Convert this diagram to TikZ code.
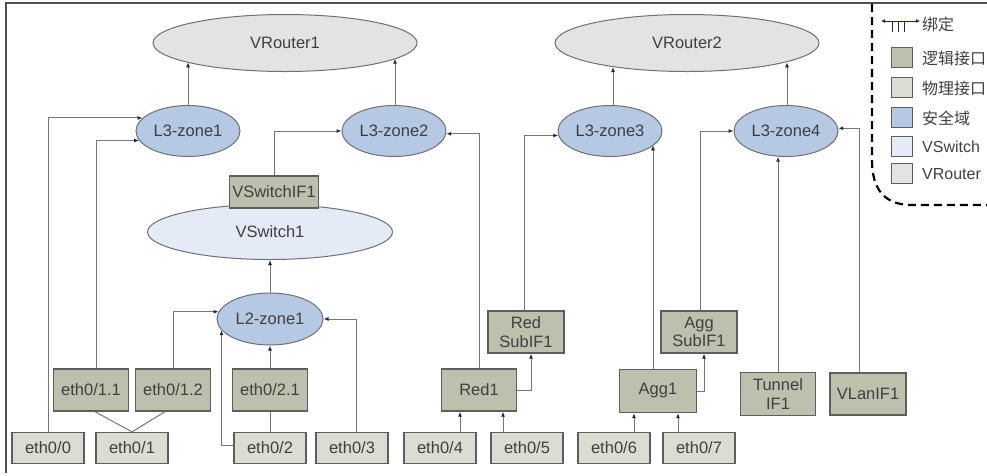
\documentclass[tikz,border=0pt]{standalone}
\usepackage{fontspec}
\setmainfont{Liberation Sans}
\newfontfamily\cjkfont{Noto Sans CJK SC}
\usetikzlibrary{shapes.geometric,arrows.meta}

\definecolor{logicfill}{HTML}{BEBFAD}
\definecolor{physfill}{HTML}{DCDCD3}
\definecolor{zonefill}{HTML}{B5C8E4}
\definecolor{vswfill}{HTML}{E4EBF7}
\definecolor{vrtfill}{HTML}{E3E3E3}
\definecolor{edgegray}{HTML}{5E5E5E}
\definecolor{ovalgray}{HTML}{707070}
\definecolor{wiregray}{HTML}{767676}
\definecolor{tipblue}{HTML}{1E2450}
\definecolor{labelgray}{HTML}{404040}
\definecolor{framegray}{HTML}{505050}

\begin{document}
\begin{tikzpicture}[x=1pt,y=-1pt,
  every node/.style={font=\fontsize{16.5}{18.5}\selectfont, text=labelgray, inner sep=0pt},
  box/.style={rectangle, draw=edgegray, line width=1.3pt, align=center},
  logic/.style={box, fill=logicfill, minimum width=75pt, minimum height=42pt},
  phys/.style={box, fill=physfill, minimum width=72pt, minimum height=31pt},
  oval/.style={ellipse, draw=ovalgray, line width=1pt},
  zone/.style={oval, fill=zonefill, minimum width=104pt, minimum height=51pt},
  vswitch/.style={oval, fill=vswfill, minimum width=245pt, minimum height=55pt},
  vrouter/.style={oval, fill=vrtfill, minimum width=264pt, minimum height=57pt},
  swatch/.style={rectangle, draw=edgegray, line width=1pt, minimum width=21pt, minimum height=20pt},
  keytext/.style={anchor=west, font=\fontsize{16}{18}\selectfont},
  wire/.style={draw=wiregray, line width=1pt},
  feed/.style={wire, -{Latex[length=5pt,width=4pt,color=tipblue]}},
  bind/.style={draw=tipblue, line width=1pt},
]
\useasboundingbox (0,0) rectangle (987,475);

% outer frame (top and left edges)
\draw[framegray, line width=2.5pt] (987,3) -- (6,3) -- (6,473);

% virtual routers
\node[vrouter] (vr1) at (285,43) {VRouter1};
\node[vrouter] (vr2) at (687,43) {VRouter2};

% layer-3 security zones
\node[zone] (z1) at (188,131) {L3-zone1};
\node[zone] (z2) at (394,131) {L3-zone2};
\node[zone] (z3) at (610,131) {L3-zone3};
\node[zone] (z4) at (786,131) {L3-zone4};

% virtual switch and its interface
\node[vswitch] (vs1) at (270,232) {VSwitch1};
\node[logic, minimum width=89pt, minimum height=32pt] (vsif) at (274,192) {VSwitchIF1};
\node[zone, minimum width=106pt, minimum height=52pt] (l2z) at (270,319) {L2-zone1};

% logical interfaces
\node[logic] (e011) at (91,390) {eth0/1.1};
\node[logic] (e012) at (173,390) {eth0/1.2};
\node[logic] (e021) at (270,390) {eth0/2.1};
\node[logic] (red1) at (479,390) {Red1};
\node[logic, minimum width=77pt, minimum height=43pt] (agg1) at (658,391) {Agg1};
\node[logic, minimum height=43pt] (tun1) at (778,394) {Tunnel\\IF1};
\node[logic, minimum width=76pt] (vlan1) at (868,394) {VLanIF1};
\node[logic, minimum width=76pt] (redsub) at (526,332) {Red\\SubIF1};
\node[logic, minimum width=76pt] (aggsub) at (699,332) {Agg\\SubIF1};

% physical interfaces
\node[phys] (e00) at (48,448) {eth0/0};
\node[phys] (e01) at (132,448) {eth0/1};
\node[phys] (e02) at (270,448) {eth0/2};
\node[phys] (e03) at (352,448) {eth0/3};
\node[phys] (e04) at (440,448) {eth0/4};
\node[phys] (e05) at (527,448) {eth0/5};
\node[phys] (e06) at (614,448) {eth0/6};
\node[phys] (e07) at (699,448) {eth0/7};

% zones up to routers
\draw[feed] (z1.north) -- (z1.north |- vr1.191);
\draw[feed] ([xshift=1pt]z2.north) -- ([xshift=1pt]z2.north |- vr1.352);
\draw[feed] ([xshift=3pt]z3.north) -- ([xshift=3pt]z3.north |- vr2.198);
\draw[feed] ([xshift=1pt]z4.north) -- ([xshift=1pt]z4.north |- vr2.349);

% members of L3-zone1
\draw[feed] (e00.north) |- (z1.164);
\draw[feed] ([xshift=5pt]e011.north) |- (z1.191);
% members of L3-zone2
\draw[feed] (vsif.north) |- (z2.west);
\draw[feed] (red1.north) |- (z2.357);
% members of L3-zone3
\draw[feed] ([xshift=-2pt]redsub.north) |- (z3.185);
\draw[feed] ([xshift=-5pt]agg1.north) -- ([xshift=-5pt]agg1.north |- z3.342);
% members of L3-zone4
\draw[feed] ([xshift=1pt]aggsub.north) |- (z4.west);
\draw[feed] (tun1.north) -- (tun1.north |- z4.252);
\draw[feed] ([xshift=-9pt]vlan1.north) |- (z4.3);

% layer-2 zone
\draw[feed] (l2z.north) -- (vs1.south);
\draw[feed] (e012.north) |- (l2z.172);
\draw[feed] ([yshift=3pt]e02.west) -| (l2z.193);
\draw[feed] (e021.north) -- (l2z.south);
\draw[feed] ([xshift=4pt]e03.north) |- (l2z.east);

% sub-interfaces on physical ports
\draw[wire] (e01.north) -- ([xshift=4pt]e011.south);
\draw[wire] (e01.north) -- ([xshift=-8pt]e012.south);
\draw[wire] (e02.north) -- (e021.south);

% redundant and aggregate interfaces
\draw[feed] ([xshift=20pt]e04.north) -- ([xshift=20pt]e04.north |- red1.south);
\draw[feed] ([xshift=-24pt]e05.north) -- ([xshift=-24pt]e05.north |- red1.south);
\draw[feed] (red1.east) -| ([xshift=5pt]redsub.south);
\draw[feed] ([xshift=20pt]e06.north) -- ([xshift=20pt]e06.north |- agg1.south);
\draw[feed] ([xshift=-21pt]e07.north) -- ([xshift=-21pt]e07.north |- agg1.south);
\draw[feed] (agg1.east) -| ([xshift=5pt]aggsub.south);

% legend border
\draw[black, line width=2.2pt, dash pattern=on 8pt off 5pt]
  (872,4) -- (872,160) .. controls (872,190) and (885,205) .. (912,205) -- (987,205);

% legend: binding symbol
\coordinate (bl) at (881,21);
\coordinate (br) at (920,21);
\coordinate (b1) at (892,21);
\coordinate (b2) at (898,21);
\coordinate (b3) at (904,21);
\draw[bind, {Latex[length=4pt,width=4pt]}-{Latex[length=4pt,width=4pt]}] (bl) -- (br);
\draw[bind] (b1) -- ++(0,11);
\draw[bind] (b2) -- ++(0,11);
\draw[bind] (b3) -- ++(0,11);
\node[keytext] (kbind) at (922,24) {\cjkfont 绑定};

% legend: swatches
\node[swatch, fill=logicfill] (s1) at (901.5,57) {};
\node[keytext] (k1) at (922,58) {\cjkfont 逻辑接口};
\node[swatch, fill=physfill] (s2) at (901.5,87) {};
\node[keytext] (k2) at (922,88) {\cjkfont 物理接口};
\node[swatch, fill=zonefill] (s3) at (901.5,117) {};
\node[keytext] (k3) at (922,118) {\cjkfont 安全域};
\node[swatch, fill=vswfill] (s4) at (901.5,146) {};
\node[keytext] (k4) at (922,147) {VSwitch};
\node[swatch, fill=vrtfill] (s5) at (901.5,173) {};
\node[keytext] (k5) at (922,174) {VRouter};
\end{tikzpicture}
\end{document}
